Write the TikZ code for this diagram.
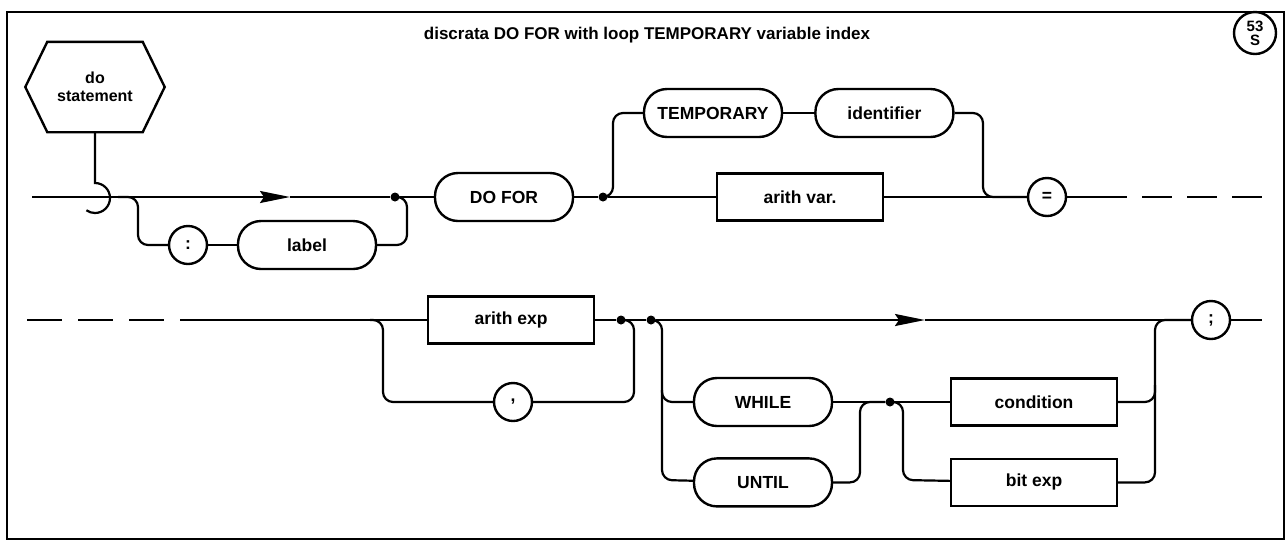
\documentclass[tikz,border=0pt]{standalone}
\usepackage{fontspec}
\setmainfont{Liberation Sans}
\usetikzlibrary{positioning,arrows.meta}

\begin{document}
\begin{tikzpicture}[x=1pt,y=-1pt,
 lbl/.style={font=\fontsize{17.5}{20}\selectfont\bfseries},
 term/.style={lbl,draw,line width=2.4pt,rounded corners=23pt,minimum width=138pt,minimum height=48pt,inner sep=0pt},
 nterm/.style={lbl,draw,line width=2.4pt,minimum width=166pt,minimum height=47pt,inner sep=0pt},
 sym/.style={lbl,draw,circle,line width=2.4pt,minimum size=38pt,inner sep=0pt},
 dot/.style={circle,fill,inner sep=0pt,minimum size=9pt},
 ln/.style={line width=2.2pt,rounded corners=10pt},
 arr/.style={-{Stealth[length=30pt,width=12pt,inset=4pt]}}]
\useasboundingbox (0,0) rectangle (1288,542);
\draw[line width=2pt] (7,12) rectangle (1284,539);
\node[lbl,font=\fontsize{17}{20}\selectfont\bfseries] (title) at (647,35) {discrata DO FOR with loop TEMPORARY variable index};
\node[sym,minimum size=42pt,font=\fontsize{15}{14}\selectfont\bfseries,align=center] (page) at (1255,33) {53\\S};
% first line
\node[lbl,font=\fontsize{16}{18}\selectfont\bfseries,align=center,minimum width=139pt,minimum height=90pt,inner sep=0pt] (stmt) at (95,87) {do\\statement};
\draw[line width=2.4pt] (stmt.west) -- ([xshift=22pt]stmt.north west) -- ([xshift=-22pt]stmt.north east) -- (stmt.east) -- ([xshift=-22pt]stmt.south east) -- ([xshift=22pt]stmt.south west) -- cycle;
\coordinate (hook) at (95,183);
\draw[line width=2.2pt] (stmt.south) -- (hook) arc[start angle=90,end angle=-125,radius=15pt];
\coordinate (in1) at (32,197);
\coordinate (b1) at (118,197);
\coordinate (tip1) at (290,197);
\node[dot] (j1) at (395,197) {};
\node[sym] (colon) at (188,245) {:};
\node[term] (label) at (307,245) {label};
\node[term] (dofor) at (504,197) {DO FOR};
\node[dot] (j2) at (603,197) {};
\node[term] (temp) at (713,113) {TEMPORARY};
\node[term,right=31pt of temp] (ident) {identifier};
\node[nterm] (var) at (800,197) {arith var.};
\node[sym] (eq) at (1047,197) {=};
\coordinate (out1) at (1127,197);
\coordinate (cut1) at (1142,197);
\coordinate (end1) at (1262,197);
\draw[ln,arr] (in1) -- (tip1);
\draw[ln] (tip1) -- (j1);
\draw[ln] (b1) -| (138,245) -- (colon);
\draw[ln] (colon) -- (label);
\draw[ln] (label) -| (407,197) -- (j1);
\draw[ln] (j1) -- (dofor);
\draw[ln] (dofor) -- (j2);
\draw[ln] (j2) -- (var);
\draw[ln] (var) -- (eq);
\draw[ln] (j2) -| (613,113) -- (temp);
\draw[ln] (temp) -- (ident);
\draw[ln] (ident) -| (983,197) -- (eq);
\draw[ln] (eq) -- (out1);
\draw[ln,dash pattern=on 30pt off 15pt] (cut1) -- (end1);
% second line
\coordinate (in2) at (27,320);
\coordinate (cut2) at (164,320);
\coordinate (b2) at (180,320);
\node[nterm] (aexp) at (511,320) {arith exp};
\node[sym] (comma) at (513,402) {,};
\node[dot] (j3) at (621,320) {};
\node[dot] (j4) at (651,320) {};
\node[term] (while) at (763,402) {WHILE};
\node[term,below=30pt of while] (until) {UNTIL};
\node[dot] (j5) at (890,402) {};
\node[nterm] (cond) at (1034,402) {condition};
\node[nterm,below=31pt of cond] (bexp) {bit exp};
\node[sym] (semi) at (1211,320) {;};
\coordinate (tip2) at (925,320);
\coordinate (out2) at (1262,320);
\draw[ln,dash pattern=on 35pt off 16pt] (in2) -- (cut2);
\draw[ln] (b2) -- (aexp);
\draw[ln] (aexp) -- (j3);
\draw[ln] (j3) -- (j4);
\draw[ln] (370,320) -| (383,402) -- (comma);
\draw[ln] (comma) -| (634,320) -- (j3);
\draw[ln,arr] (j4) -- (tip2);
\draw[ln] (tip2) -- (semi);
\draw[ln] (semi) -- (out2);
\draw[ln] (j4) -| (662,480) -- (until);
\draw[ln] (662,390) |- (while);
\draw[ln] (while) -- (j5);
\draw[ln] (until) -| (860,402) -- (j5);
\draw[ln] (j5) -- (cond);
\draw[ln] (j5) -| (903,480) -- (bexp);
\draw[ln] (bexp) -| (1155,320) -- (semi);
\draw[ln] (cond) -| (1155,385);
\end{tikzpicture}
\end{document}
